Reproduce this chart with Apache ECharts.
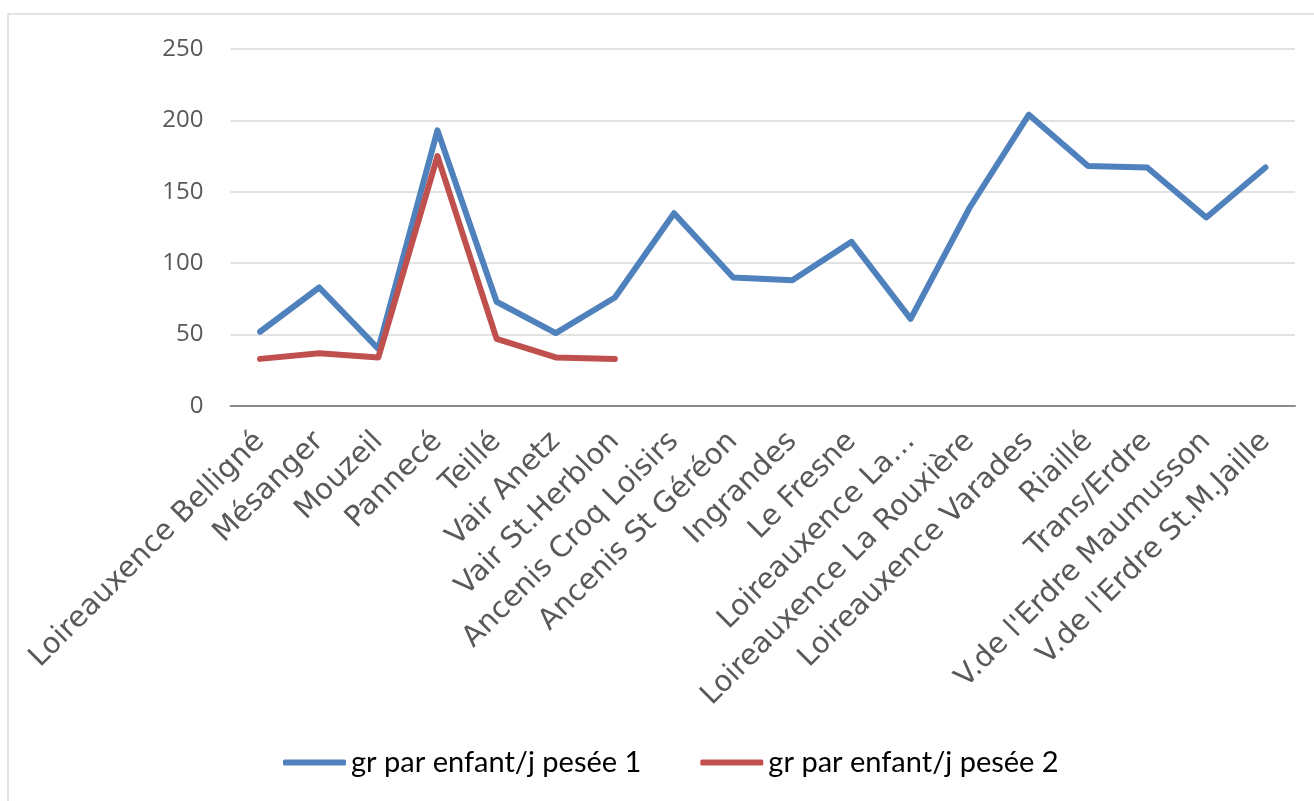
<!DOCTYPE html>
<html>
<head>
<meta charset="utf-8">
<script src="https://cdn.jsdelivr.net/npm/echarts@6/dist/echarts.min.js"></script>
<style>
  html, body { margin: 0; padding: 0; background: #fff; }
  #chart { width: 1314px; height: 801px; }
</style>
</head>
<body>
<div id="chart"></div>
<script>
// Sites (restaurants scolaires)
const categories = [
  'Loireauxence Belligné', 'Mésanger', 'Mouzeil', 'Pannecé', 'Teillé',
  'Vair Anetz', 'Vair St.Herblon', 'Ancenis Croq Loisirs', 'Ancenis St Géréon',
  'Ingrandes', 'Le Fresne', 'Loireauxence La…', 'Loireauxence La Rouxière',
  'Loireauxence Varades', 'Riaillé', 'Trans/Erdre', "V.de l'Erdre Maumusson",
  "V.de l'Erdre St.M.Jaille"
];

// Grammes par enfant et par jour
const pesee1 = [52, 83, 40, 193, 73, 51, 76, 135, 90, 88, 115, 61, 139, 204, 168, 167, 132, 167];
const pesee2 = [33, 37, 34, 175, 47, 34, 33];

const seriesNames = ['gr par enfant/j pesée 1', 'gr par enfant/j pesée 2'];
const yTicks = { min: 0, max: 250, interval: 50 };

const chart = echarts.init(document.getElementById('chart'));
chart.setOption({
  animation: false,
  backgroundColor: '#ffffff',
  graphic: [{
    type: 'rect',
    silent: true,
    shape: { x: 8, y: 14, width: 1400, height: 900 },
    style: { fill: 'none', stroke: '#d9d9d9', lineWidth: 1.5 }
  }],
  grid: { left: 230.5, right: 19, top: 49, bottom: 395, containLabel: false },
  legend: {
    left: 278,
    top: 743,
    itemWidth: 63,
    itemHeight: 6,
    itemGap: 59,
    icon: 'roundRect',
    textStyle: { fontFamily: 'Lato', fontSize: 29, color: '#000' },
    data: seriesNames
  },
  xAxis: {
    type: 'category',
    data: categories,
    boundaryGap: true,
    axisLine: { lineStyle: { color: '#8c8c8c', width: 2 } },
    axisTick: { show: false },
    axisLabel: {
      interval: 0,
      rotate: 45,
      margin: 31,
      color: '#595959',
      fontFamily: 'DejaVu Sans',
      fontSize: 29
    }
  },
  yAxis: {
    type: 'value',
    min: yTicks.min,
    max: yTicks.max,
    interval: yTicks.interval,
    axisLine: { show: false },
    axisTick: { show: false },
    splitLine: { lineStyle: { color: '#d9d9d9', width: 1.5 } },
    axisLabel: {
      margin: 27,
      color: '#595959',
      fontFamily: 'Open Sans',
      fontSize: 24
    }
  },
  series: [
    {
      name: seriesNames[0],
      type: 'line',
      data: pesee1,
      symbol: 'none',
      color: '#4f81bd',
      lineStyle: { width: 6, cap: 'round', join: 'round' }
    },
    {
      name: seriesNames[1],
      type: 'line',
      data: pesee2,
      symbol: 'none',
      color: '#c0504d',
      lineStyle: { width: 6, cap: 'round', join: 'round' }
    }
  ]
});
</script>
</body>
</html>
